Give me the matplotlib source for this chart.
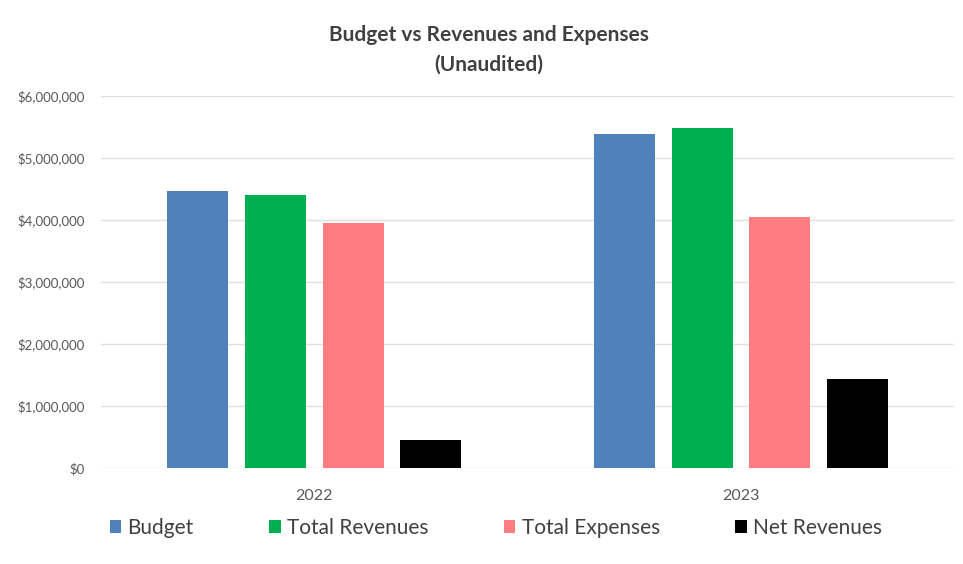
import matplotlib.pyplot as plt
import numpy as np

plt.rcParams['font.family'] = ['Lato', 'DejaVu Sans']

anos = ['2022', '2023']
series = ['Budget', 'Total Revenues', 'Total Expenses', 'Net Revenues']
budget = [4470000, 5390000]
receitas = [4410000, 5480000]
despesas = [3950000, 4040000]
liquido = [460000, 1440000]
valores = [budget, receitas, despesas, liquido]
cores = ['#4f81bd', '#00b050', '#ff7c80', '#000000']
yticks = [0, 1000000, 2000000, 3000000, 4000000, 5000000, 6000000]

fig = plt.figure(figsize=(9.63, 5.64), dpi=100)
ax = fig.add_axes([0.105, 0.170, 0.886, 0.660])

indice = np.arange(len(anos))
passo = 0.182
bar_larg = 0.143
for i, (nome, vals, cor) in enumerate(zip(series, valores, cores)):
    ax.bar(indice + (i - 1.5) * passo, vals, bar_larg, color=cor, label=nome, zorder=3)

ax.set_xlim(-0.5, 1.5)
ax.set_ylim(0, 6000000)
ax.set_yticks(yticks)
ax.set_yticklabels(['${:,.0f}'.format(v) for v in yticks], fontsize=9.5, color='#595959')
ax.set_xticks(indice)
ax.set_xticklabels(anos, fontsize=11.5, color='#595959')
ax.tick_params(length=0)
ax.tick_params(axis='y', pad=12)
ax.tick_params(axis='x', pad=15)
ax.grid(axis='y', color='#e0e0e0', linewidth=1, zorder=0)
for s in ax.spines.values():
    s.set_visible(False)

fig.text(0.508, 0.938, 'Budget vs Revenues and Expenses', ha='center', va='center',
         fontsize=15, fontweight='bold', color='#404040')
fig.text(0.508, 0.886, '(Unaudited)', ha='center', va='center',
         fontsize=15, fontweight='bold', color='#404040')

fig.legend(loc='center', bbox_to_anchor=(0.114, 0.014, 0.802, 0.1), ncol=4, mode='expand',
           frameon=False, fontsize=15, handlelength=0.55, handleheight=0.55,
           handletextpad=0.3, borderpad=0, borderaxespad=0, labelcolor='#404040')

fig.savefig('out.png', dpi=100)
